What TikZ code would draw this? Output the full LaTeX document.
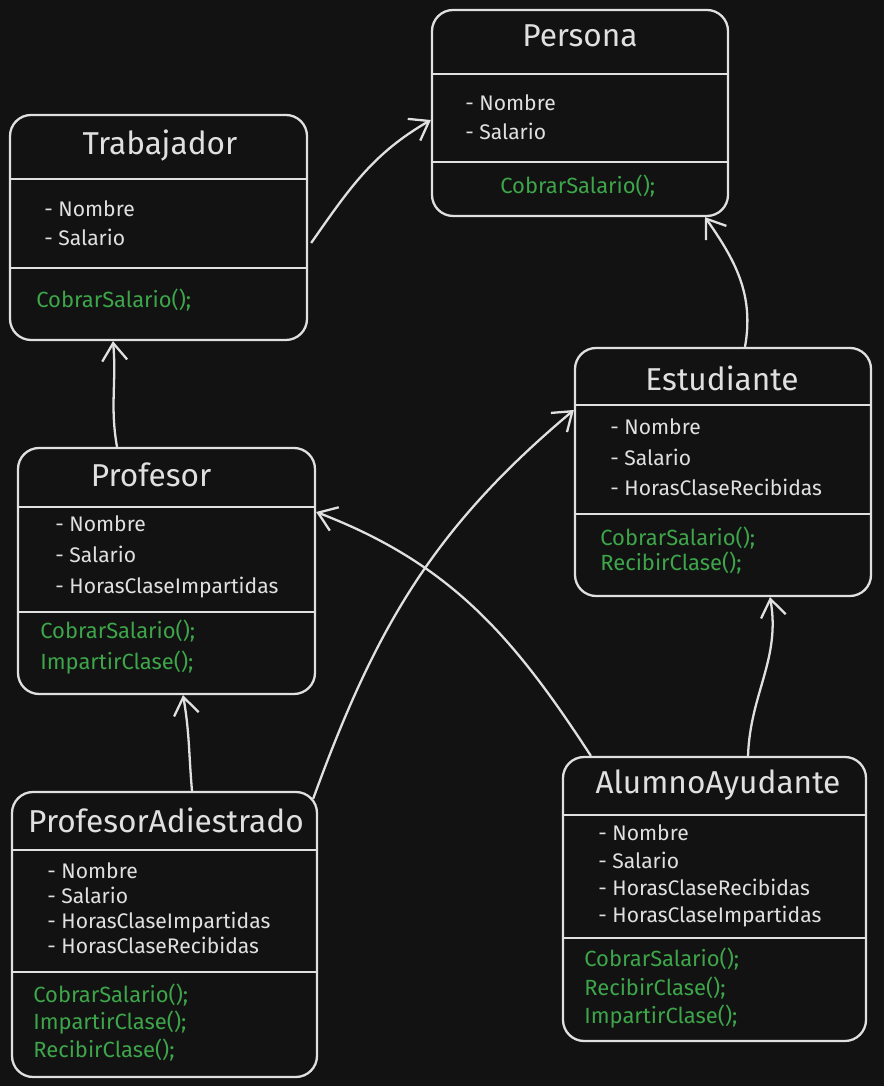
\documentclass[tikz,border=0pt]{standalone}
\usepackage{fontspec}
\setmainfont{Fira Sans}
\usetikzlibrary{arrows.meta,positioning,calc}
\definecolor{bgdark}{HTML}{121212}
\definecolor{ink}{HTML}{E0E0E0}
\definecolor{mgreen}{HTML}{3DA54A}

\begin{document}
\begin{tikzpicture}[
  box/.style={draw=ink, line width=1.3pt, rounded corners=12pt, minimum width=#1, inner sep=0pt},
  sep/.style={draw=ink, line width=1.3pt},
  ttl/.style={text=ink, font=\fontsize{18}{20}\selectfont},
  attr/.style={text=ink, font=\fontsize{12}{#1}\selectfont, align=left, anchor=west, inner sep=0pt},
  meth/.style={text=mgreen, font=\fontsize{12.5}{#1}\selectfont, align=left, anchor=west, inner sep=0pt},
  arr/.style={-{Straight Barb[length=3.5mm, width=5mm]}, draw=ink, line width=1.3pt},
]
  \fill[bgdark] (0,0) rectangle (17.68,21.72);
  \useasboundingbox (0,0) rectangle (17.68,21.72);

  % class boxes
  \node[box=5.92cm, minimum height=4.12cm] (persona) at (11.60,19.46) {};
  \node[box=5.94cm, minimum height=4.50cm] (trab) at (3.17,17.17) {};
  \node[box=5.92cm, minimum height=4.96cm] (est) at (14.46,12.28) {};
  \node[box=5.94cm, minimum height=4.92cm] (prof) at (3.33,10.30) {};
  \node[box=6.10cm, minimum height=5.70cm] (pa) at (3.29,3.03) {};
  \node[box=6.06cm, minimum height=5.68cm] (aa) at (14.29,3.74) {};

  % compartments
  \draw[sep] (persona.west |- 0,20.24) -- (persona.east |- 0,20.24);
  \draw[sep] (persona.west |- 0,18.48) -- (persona.east |- 0,18.48);
  \draw[sep] (trab.west |- 0,18.14) -- (trab.east |- 0,18.14);
  \draw[sep] (trab.west |- 0,16.36) -- (trab.east |- 0,16.36);
  \draw[sep] (est.west |- 0,13.62) -- (est.east |- 0,13.62);
  \draw[sep] (est.west |- 0,11.44) -- (est.east |- 0,11.44);
  \draw[sep] (prof.west |- 0,11.58) -- (prof.east |- 0,11.58);
  \draw[sep] (prof.west |- 0,9.48) -- (prof.east |- 0,9.48);
  \draw[sep] (pa.west |- 0,4.72) -- (pa.east |- 0,4.72);
  \draw[sep] (pa.west |- 0,2.28) -- (pa.east |- 0,2.28);
  \draw[sep] (aa.west |- 0,5.42) -- (aa.east |- 0,5.42);
  \draw[sep] (aa.west |- 0,2.96) -- (aa.east |- 0,2.96);

  % Persona
  \node[ttl] (personaT) at (11.60,21.00) {Persona};
  \node[attr=16.5pt] (personaA) at (9.30,19.37) {- Nombre\\- Salario};
  \node[meth=16pt] (personaM) at (10.00,18.00) {CobrarSalario();};

  % Trabajador
  \node[ttl] (trabT) at (3.20,18.80) {Trabajador};
  \node[attr=16.5pt] (trabA) at (0.88,17.25) {- Nombre\\- Salario};
  \node[meth=16pt] (trabM) at (0.72,15.72) {CobrarSalario();};

  % Estudiante
  \node[ttl] (estT) at (14.44,14.16) {Estudiante};
  \node[attr=17.3pt] (estA) at (12.20,12.57) {- Nombre\\- Salario\\- HorasClaseRecibidas};
  \node[meth=14.2pt] (estM) at (12.00,10.71) {CobrarSalario();\\RecibirClase();};

  % Profesor
  \node[ttl] (profT) at (3.02,12.22) {Profesor};
  \node[attr=17.6pt] (profA) at (1.10,10.58) {- Nombre\\- Salario\\- HorasClaseImpartidas};
  \node[meth=17.6pt] (profM) at (0.80,8.77) {CobrarSalario();\\ImpartirClase();};

  % ProfesorAdiestrado
  \node[ttl] (paT) at (3.32,5.32) {ProfesorAdiestrado};
  \node[attr=14.2pt] (paA) at (0.94,3.55) {- Nombre\\- Salario\\- HorasClaseImpartidas\\- HorasClaseRecibidas};
  \node[meth=15.6pt] (paM) at (0.66,1.27) {CobrarSalario();\\ImpartirClase();\\RecibirClase();};

  % AlumnoAyudante
  \node[ttl] (aaT) at (14.36,6.02) {AlumnoAyudante};
  \node[attr=15.5pt] (aaA) at (11.96,4.20) {- Nombre\\- Salario\\- HorasClaseRecibidas\\- HorasClaseImpartidas};
  \node[meth=16.2pt] (aaM) at (11.68,1.95) {CobrarSalario();\\RecibirClase();\\ImpartirClase();};

  % inheritance
  \draw[arr] ([shift={(0.06,-0.31)}]trab.east) to[out=55, in=210] ([yshift=-0.14cm]persona.west);
  \draw[arr] ([xshift=0.44cm]est.north) to[out=80, in=-55] ([xshift=2.50cm]persona.south);
  \draw[arr] ([xshift=-0.99cm]prof.north) to[out=100, in=-85] ([xshift=-0.91cm]trab.south);
  \draw[arr] ([xshift=0.55cm]pa.north) to[out=95, in=-80] ([xshift=0.33cm]prof.south);
  \draw[arr] ([shift={(-0.10,-0.16)}]pa.north east) to[out=70, in=220] ([yshift=1.24cm]est.west);
  \draw[arr] ([xshift=0.58cm]aa.north west) to[out=123, in=-21] ([yshift=1.18cm]prof.east);
  \draw[arr] ([xshift=0.67cm]aa.north) to[out=88, in=-80] ([xshift=0.94cm]est.south);
\end{tikzpicture}
\end{document}
